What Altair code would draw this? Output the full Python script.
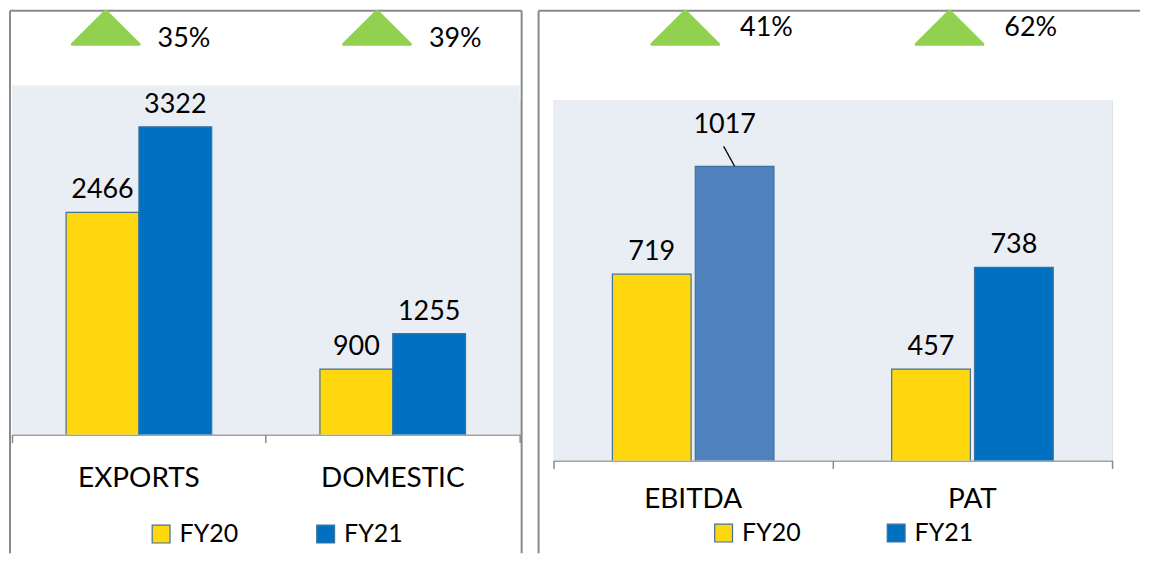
import altair as alt
import pandas as pd

FONT = "Lato"
YEARS = ["FY20", "FY21"]

left_cats = ["EXPORTS", "DOMESTIC"]
left_fy20 = [2466, 900]
left_fy21 = [3322, 1255]
left_growth = ["35%", "39%"]

right_cats = ["EBITDA", "PAT"]
right_fy20 = [719, 457]
right_fy21 = [1017, 738]
right_growth = ["41%", "62%"]

YELLOW = "#FFD70F"
BLUE = "#0070C0"
STEEL = "#4F81BD"
GREEN = "#92D050"
EDGE = "#41719C"
BORDER = "#8A8A8A"
PLOTBG = "#E9EDF4"

HILITE = "datum.cat == 'EBITDA' && datum.year == 'FY21'"


def panel(cats, fy20, fy21, growth, w, h, bg_top, ydom, pad_in, pad_out,
          top_range, tri_y, pct_dx, pct_y, cat_y, leg_x, leg_y, leg_colpad,
          border_l, border_r, border_t, border_b, right_border):
    df = pd.DataFrame({
        "cat": cats * 2,
        "year": ["FY20"] * len(cats) + ["FY21"] * len(cats),
        "value": fy20 + fy21,
    })
    gdf = pd.DataFrame({"cat": cats, "growth": growth})
    one = pd.DataFrame({"k": [0]})

    x = alt.X("cat:N", sort=cats,
              scale=alt.Scale(domain=cats, paddingInner=0, paddingOuter=0),
              axis=alt.Axis(title=None, labels=False, grid=False,
                            domain=True, domainColor=BORDER, domainWidth=1.5,
                            ticks=True, tickColor=BORDER, tickWidth=1.5,
                            tickSize=8, bandPosition=1, tickExtra=True))
    x_noaxis = alt.X("cat:N", sort=cats,
                     scale=alt.Scale(domain=cats, paddingInner=0, paddingOuter=0),
                     axis=None)
    x_top = alt.X("cat:N", sort=cats,
                  scale=alt.Scale(domain=cats, range=top_range,
                                  paddingInner=0, paddingOuter=0),
                  axis=None)
    xo = alt.XOffset("year:N", sort=YEARS,
                     scale=alt.Scale(domain=YEARS, paddingInner=pad_in,
                                     paddingOuter=pad_out))
    y = alt.Y("value:Q", scale=alt.Scale(domain=ydom, zero=False, nice=False),
              axis=None)

    bg = alt.Chart(one).mark_rect(fill=PLOTBG, opacity=1).encode(
        x=alt.value(0), x2=alt.value(w), y=alt.value(bg_top), y2=alt.value(h))

    bars = alt.Chart(df).mark_bar(clip=True, stroke=EDGE, strokeWidth=1.2).encode(
        x=x, xOffset=xo, y=y,
        color=alt.condition(
            HILITE, alt.value(STEEL),
            alt.Color("year:N", sort=YEARS,
                      scale=alt.Scale(domain=YEARS, range=[YELLOW, BLUE]),
                      legend=alt.Legend(
                          title=None, orient="none", legendX=leg_x, legendY=leg_y,
                          direction="horizontal", symbolType="square",
                          symbolSize=320, symbolStrokeColor=EDGE,
                          symbolStrokeWidth=1.2, symbolOpacity=1,
                          labelFont=FONT, labelFontSize=25, labelColor="black",
                          labelOffset=6, columnPadding=leg_colpad, padding=0)))
    )

    labels = alt.Chart(df).transform_filter("!(" + HILITE + ")").mark_text(
        font=FONT, fontSize=27, color="black", baseline="alphabetic", dy=-14
    ).encode(x=x_noaxis, xOffset=xo, y=y, text="value:Q")

    layers = [bg, bars, labels]

    if "EBITDA" in cats:
        hl = alt.Chart(df).transform_filter(HILITE)
        layers.append(hl.mark_text(font=FONT, fontSize=27, color="black",
                                   baseline="alphabetic", dy=-33, dx=-10)
                      .encode(x=x_noaxis, xOffset=xo, y=y, text="value:Q"))
        layers.append(hl.mark_point(shape="M0,0L-0.55,-1", size=1600, filled=False,
                                    stroke="black", strokeWidth=1.3, opacity=1)
                      .encode(x=x_noaxis, xOffset=xo, y=y))

    tri = alt.Chart(gdf).mark_point(
        shape="M-1,0.5L0,-0.5L1,0.5Z", size=4489, filled=True, fill=GREEN,
        stroke=GREEN, strokeWidth=3, strokeJoin="round", opacity=1
    ).encode(x=x_top, y=alt.value(tri_y))

    pct = alt.Chart(gdf).mark_text(
        font=FONT, fontSize=27, color="black", align="left", baseline="middle",
        dx=pct_dx
    ).encode(x=x_top, y=alt.value(pct_y), text="growth:N")

    catlab = alt.Chart(gdf).mark_text(
        font=FONT, fontSize=28, color="black", align="center", baseline="middle"
    ).encode(x=x_noaxis, y=alt.value(cat_y), text="cat:N")

    top = alt.Chart(one).mark_rule(color=BORDER, strokeWidth=2).encode(
        x=alt.value(border_l), x2=alt.value(border_r),
        y=alt.value(border_t), y2=alt.value(border_t))
    lft = alt.Chart(one).mark_rule(color=BORDER, strokeWidth=2).encode(
        x=alt.value(border_l), x2=alt.value(border_l),
        y=alt.value(border_t), y2=alt.value(border_b))
    layers += [top, lft]
    if right_border:
        rgt = alt.Chart(one).mark_rule(color=BORDER, strokeWidth=2).encode(
            x=alt.value(border_r), x2=alt.value(border_r),
            y=alt.value(border_t), y2=alt.value(border_b))
        layers.append(rgt)
    layers += [tri, pct, catlab]

    return alt.layer(*layers).resolve_scale(x="independent").properties(
        width=w, height=h)


left = panel(left_cats, left_fy20, left_fy21, left_growth,
             w=509, h=335, bg_top=-15, ydom=[245, 3585], pad_in=0, pad_out=0.743,
             top_range=[-42, 502], tri_y=-73, pct_dx=52, pct_y=-62, cat_y=380,
             leg_x=137, leg_y=422, leg_colpad=75,
             border_l=-2, border_r=511, border_t=-90, border_b=454,
             right_border=True)

right = panel(right_cats, right_fy20, right_fy21, right_growth,
              w=560, h=361, bg_top=0, ydom=[204.5, 1198.7], pad_in=0.05,
              pad_out=0.71, top_range=[-0.5, 529.5], tri_y=-73, pct_dx=55,
              pct_y=-73, cat_y=401, leg_x=158, leg_y=421, leg_colpad=83,
              border_l=-15, border_r=588, border_t=-90, border_b=454,
              right_border=False)

chart = alt.hconcat(left, right, spacing=13).resolve_scale(
    color="independent", x="independent", y="independent", xOffset="independent"
).resolve_legend(color="independent").properties(padding=0).configure_view(
    stroke="transparent", strokeWidth=0
).configure(background="white")

chart.save("out.html", embed_options={"renderer": "svg", "actions": False})
